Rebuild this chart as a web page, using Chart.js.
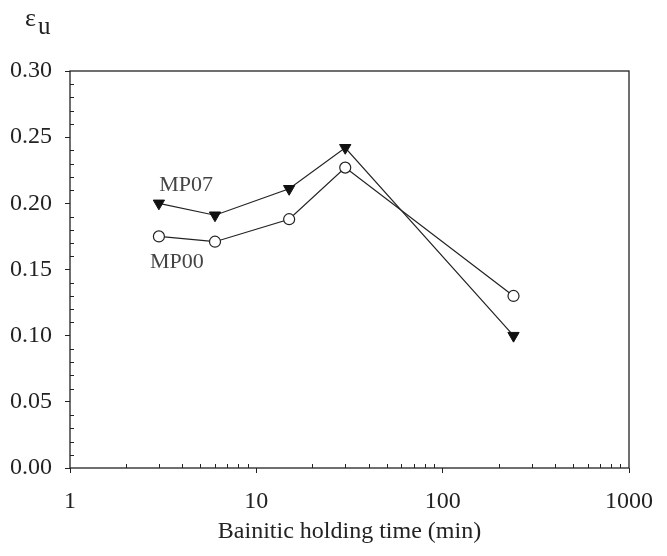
<!DOCTYPE html>
<html><head><meta charset="utf-8">
<script src="https://cdn.jsdelivr.net/npm/chart.js@4.4.0/dist/chart.umd.min.js"></script>
<style>html,body{margin:0;padding:0;background:#fff;} #wrap{width:667px;height:556px;position:relative;}</style>
</head><body><div id="wrap"><canvas id="c" width="667" height="556"></canvas></div>
<script>
// ---- data ----
const times = [3, 6, 15, 30, 240];
const mp07 = [0.200, 0.191, 0.211, 0.242, 0.100];
const mp00 = [0.175, 0.171, 0.188, 0.227, 0.130];
const seriesNames = ['MP07', 'MP00'];
const xTickValues = [1, 10, 100, 1000];
const yTickValues = [0, 0.05, 0.10, 0.15, 0.20, 0.25, 0.30];
const xTitle = 'Bainitic holding time (min)';
const yTitleMain = 'ε';
const yTitleSub = 'u';
// annotation anchors (in data units)
const labelAnchors = [[4.2, 0.214], [3.75, 0.1553]];

const FONT = '"Liberation Serif", "Times New Roman", serif';
const INK = '#222';

const deco = {
  id: 'deco',
  afterDraw(chart) {
    const {ctx, chartArea: a, scales: {x, y}} = chart;
    ctx.save();
    ctx.strokeStyle = INK;
    ctx.lineWidth = 1.3;
    ctx.strokeRect(a.left, a.top, a.right - a.left, a.bottom - a.top);
    ctx.lineWidth = 1;
    ctx.beginPath();
    for (let i = 1; i < 30; i++) {
      if (i % 5 === 0) continue;
      const py = Math.round(y.getPixelForValue(i / 100)) + 0.5;
      ctx.moveTo(a.left, py); ctx.lineTo(a.left + 4, py);
    }
    for (const d of [1, 10, 100]) {
      for (let k = 2; k <= 9; k++) {
        const px = Math.round(x.getPixelForValue(d * k)) + 0.5;
        ctx.moveTo(px, a.bottom); ctx.lineTo(px, a.bottom - 4);
      }
    }
    ctx.stroke();
    // series labels
    ctx.fillStyle = '#444';
    ctx.font = '22px ' + FONT;
    ctx.textAlign = 'center';
    ctx.textBaseline = 'middle';
    seriesNames.forEach((n, i) => {
      ctx.fillText(n, x.getPixelForValue(labelAnchors[i][0]), y.getPixelForValue(labelAnchors[i][1]));
    });
    // y title
    ctx.fillStyle = INK;
    ctx.textAlign = 'left';
    ctx.textBaseline = 'alphabetic';
    ctx.font = '26px ' + FONT;
    ctx.fillText(yTitleMain, 25, 26);
    ctx.font = '25px ' + FONT;
    ctx.fillText(yTitleSub, 38, 34);
    ctx.restore();
  }
};

new Chart(document.getElementById('c'), {
  type: 'line',
  data: {
    datasets: [
      {
        label: seriesNames[0],
        data: times.map((t, i) => ({x: t, y: mp07[i]})),
        borderColor: INK, borderWidth: 1.2,
        pointStyle: 'triangle', rotation: 180, pointRadius: 6.5,
        pointBackgroundColor: '#111', pointBorderColor: '#111', pointBorderWidth: 1,
        tension: 0
      },
      {
        label: seriesNames[1],
        data: times.map((t, i) => ({x: t, y: mp00[i]})),
        borderColor: INK, borderWidth: 1.2,
        pointStyle: 'circle', pointRadius: 5.5,
        pointBackgroundColor: '#fff', pointBorderColor: INK, pointBorderWidth: 1.2,
        tension: 0
      }
    ]
  },
  options: {
    responsive: false,
    animation: false,
    devicePixelRatio: 1,
    layout: {padding: {top: 71, right: 28, left: 0, bottom: 0}},
    plugins: {legend: {display: false}, tooltip: {enabled: false}},
    scales: {
      x: {
        type: 'logarithmic', min: 1, max: 1000,
        afterBuildTicks: s => { s.ticks = xTickValues.map(v => ({value: v})); },
        afterFit: s => { s.height = 88; },
        ticks: {
          color: INK, font: {family: FONT, size: 24}, padding: 14, maxRotation: 0, autoSkip: false,
          callback: v => String(v)
        },
        grid: {drawOnChartArea: false, tickLength: 5, color: INK, lineWidth: 1},
        border: {display: false},
        title: {display: true, text: xTitle, color: INK, font: {family: FONT, size: 24}, padding: {top: 0, bottom: 10}}
      },
      y: {
        min: 0, max: 0.30,
        afterBuildTicks: s => { s.ticks = yTickValues.map(v => ({value: v})); },
        afterFit: s => { s.width = 70; },
        ticks: {
          color: INK, font: {family: FONT, size: 24}, padding: 13,
          callback: v => Number(v).toFixed(2)
        },
        grid: {drawOnChartArea: false, tickLength: 5, color: INK, lineWidth: 1},
        border: {display: false}
      }
    }
  },
  plugins: [deco]
});
</script>
</body></html>
